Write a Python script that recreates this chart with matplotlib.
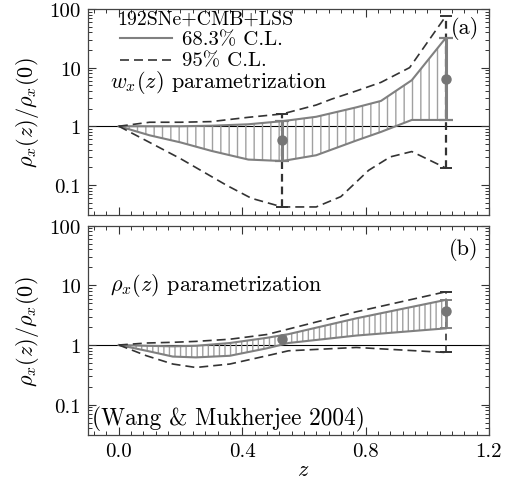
import numpy as np
import matplotlib
matplotlib.use("Agg")
import matplotlib.pyplot as plt
from matplotlib.ticker import FixedLocator, FixedFormatter, MultipleLocator, LogLocator, NullFormatter
from matplotlib.lines import Line2D

plt.rcParams['font.family'] = ['cmr10', 'DejaVu Serif']
plt.rcParams['mathtext.fontset'] = 'cm'
plt.rcParams['axes.formatter.use_mathtext'] = True
plt.rcParams['hatch.color'] = '#a0a0a0'
plt.rcParams['hatch.linewidth'] = 1.0
plt.rcParams['axes.unicode_minus'] = False

# ---- data: panel (a), w_x(z) parametrization ----
z_a = [0.0, 0.1, 0.2, 0.3, 0.42, 0.53, 0.64, 0.77, 0.85, 0.95, 1.06]
a_lo68 = [1.0, 0.70, 0.53, 0.38, 0.27, 0.255, 0.32, 0.57, 0.80, 1.28, 1.28]
a_up68 = [1.0, 1.0, 1.0, 1.02, 1.08, 1.22, 1.45, 2.1, 2.7, 6.1, 32.0]
z_a95 = [0.0, 0.1, 0.2, 0.3, 0.42, 0.53, 0.64, 0.69, 0.77, 0.85, 0.943, 1.06]
a_up95 = [1.0, 1.17, 1.17, 1.2, 1.42, 1.62, 2.3, 2.9, 4.0, 5.6, 10.0, 75.0]
z_alo95 = [0.0, 0.2, 0.35, 0.43, 0.53, 0.64, 0.72, 0.81, 0.88, 0.95, 1.06]
a_lo95 = [1.0, 0.28, 0.098, 0.059, 0.042, 0.042, 0.063, 0.177, 0.30, 0.37, 0.194]
a_pts_z = [0.53, 1.06]
a_pts_v = [0.585, 6.3]
a_pts_lo68 = [0.255, 1.28]
a_pts_up68 = [1.22, 32.0]
a_pts_lo95 = [0.042, 0.194]
a_pts_up95 = [1.62, 75.0]

# ---- data: panel (b), rho_x(z) parametrization ----
z_b = [0.0, 0.09, 0.175, 0.25, 0.36, 0.48, 0.55, 0.77, 1.06]
b_lo68 = [1.0, 0.80, 0.64, 0.62, 0.66, 0.88, 1.08, 1.44, 1.9]
b_up68 = [1.0, 0.97, 0.95, 0.97, 1.08, 1.32, 1.52, 2.8, 5.7]
b_up95 = [1.0, 1.08, 1.11, 1.15, 1.25, 1.5, 1.85, 3.6, 7.8]
b_lo95 = [1.0, 0.66, 0.48, 0.42, 0.48, 0.66, 0.80, 0.91, 0.75]
b_pts_z = [0.53, 1.06]
b_pts_v = [1.25, 3.76]
b_end_lo68, b_end_up68 = 1.9, 5.7
b_end_lo95, b_end_up95 = 0.75, 7.8

ytick_vals = [0.1, 1, 10, 100]
ytick_labels = ['0.1', '1', '10', '100']
xtick_vals = [0.0, 0.4, 0.8, 1.2]
xtick_labels = ['0.0', '0.4', '0.8', '1.2']

GRAY = '#808080'
DARK = '#333333'
DOT = '#757575'
DASH = (5.4, 3.0)

fig = plt.figure(figsize=(5.13, 4.85), dpi=100)
axA = fig.add_axes([0.1715, 0.5553, 0.7815, 0.4241])
axB = fig.add_axes([0.1715, 0.1010, 0.7815, 0.4316])


def style_axis(ax):
    ax.set_yscale('log')
    ax.set_ylim(0.031, 100)
    ax.set_xlim(-0.1, 1.2)
    ax.yaxis.set_major_locator(FixedLocator(ytick_vals))
    ax.yaxis.set_major_formatter(FixedFormatter(ytick_labels))
    ax.yaxis.set_minor_locator(LogLocator(base=10, subs=np.arange(2, 10)))
    ax.yaxis.set_minor_formatter(NullFormatter())
    ax.xaxis.set_major_locator(FixedLocator(xtick_vals))
    ax.xaxis.set_minor_locator(MultipleLocator(0.04))
    ax.tick_params(which='both', direction='in', top=True, right=True,
                   colors='#333333', labelcolor='black', labelsize=15)
    ax.tick_params(which='major', length=5.5, width=0.8)
    ax.tick_params(which='minor', length=3, width=0.7)
    ax.tick_params(axis='y', pad=5)
    ax.tick_params(axis='x', pad=5)
    for sp in ax.spines.values():
        sp.set_color('#444444')
        sp.set_linewidth(0.9)
    ax.axhline(1, color='black', lw=0.8, zorder=1)
    ax.set_ylabel(r'$\rho_x(z)/\rho_x(0)$', fontsize=16, labelpad=6)


style_axis(axA)
style_axis(axB)
axA.set_xticklabels([])
axA.set_xticklabels([], minor=True)
axB.xaxis.set_major_formatter(FixedFormatter(xtick_labels))

# ---- panel (a) ----
axA.fill_between(z_a, a_lo68, a_up68, facecolor='none', edgecolor='#a0a0a0',
                 hatch='||', linewidth=0, zorder=2)
axA.plot(z_a, a_up68, color=GRAY, lw=1.5, zorder=3)
axA.plot(z_a, a_lo68, color=GRAY, lw=1.5, zorder=3)
axA.plot(z_a95, a_up95, color=DARK, lw=1.2, dashes=DASH, zorder=3)
axA.plot(z_alo95, a_lo95, color=DARK, lw=1.2, dashes=DASH, zorder=3)
for zz, lo, up in zip(a_pts_z, a_pts_lo95, a_pts_up95):
    axA.vlines(zz, lo, up, color=DARK, lw=1.6, linestyles=(0, (3.5, 2.2)), zorder=4)
    axA.plot([zz, zz], [lo, up], ls='none', marker='_', ms=8, mew=1.4, color=DARK, zorder=4)
axA.errorbar(a_pts_z, a_pts_v,
             yerr=[np.array(a_pts_v) - np.array(a_pts_lo68), np.array(a_pts_up68) - np.array(a_pts_v)],
             fmt='o', ms=6.5, color=DOT, ecolor=GRAY, elinewidth=2.2, capsize=5, capthick=1.6, zorder=5)

# legend, drawn by hand
axA.text(0.072, 0.951, '192SNe+CMB+LSS', transform=axA.transAxes, fontsize=14.3,
         va='center', ha='left')
axA.add_line(Line2D([0.080, 0.209], [0.859, 0.859], transform=axA.transAxes, color=GRAY, lw=1.5))
axA.text(0.234, 0.854, '68.3% C.L.', transform=axA.transAxes, fontsize=15, va='center', ha='left')
axA.add_line(Line2D([0.080, 0.209], [0.752, 0.752], transform=axA.transAxes, color=DARK, lw=1.2,
                    dashes=DASH))
axA.text(0.234, 0.750, '95% C.L.', transform=axA.transAxes, fontsize=15, va='center', ha='left')

axA.text(0.055, 0.648, r'$w_x(z)$ parametrization', transform=axA.transAxes,
         fontsize=16, va='center', ha='left')
axA.text(0.975, 0.912, '(a)', transform=axA.transAxes, fontsize=16, va='center', ha='right')

# ---- panel (b) ----
axB.fill_between(z_b, b_lo68, b_up68, facecolor='none', edgecolor='#a0a0a0',
                 hatch='|||', linewidth=0, zorder=2)
axB.plot(z_b, b_up68, color=GRAY, lw=1.5, zorder=3)
axB.plot(z_b, b_lo68, color=GRAY, lw=1.5, zorder=3)
axB.plot(z_b, b_up95, color=DARK, lw=1.2, dashes=DASH, zorder=3)
axB.plot(z_b, b_lo95, color=DARK, lw=1.2, dashes=DASH, zorder=3)
zend = b_pts_z[1]
axB.vlines(zend, b_end_lo95, b_end_up95, color=DARK, lw=1.2, linestyles=(0, (4, 3)), zorder=4)
axB.plot([zend, zend], [b_end_lo95, b_end_up95], ls='none', marker='_', ms=8, mew=1.4, color=DARK, zorder=4)
axB.vlines(zend, b_end_lo68, b_end_up68, color=GRAY, lw=2.0, zorder=4)
axB.plot([zend, zend], [b_end_lo68, b_end_up68], ls='none', marker='_', ms=8, mew=1.4, color=GRAY, zorder=4)
axB.plot(b_pts_z, b_pts_v, 'o', ms=6.5, color=DOT, zorder=5)

axB.text(0.055, 0.721, r'$\rho_x(z)$ parametrization', transform=axB.transAxes,
         fontsize=16, va='center', ha='left')
axB.text(0.975, 0.889, '(b)', transform=axB.transAxes, fontsize=16, va='center', ha='right')
axB.text(0.01, 0.08, '(Wang & Mukherjee 2004)', transform=axB.transAxes,
         fontsize=16.8, va='center', ha='left')
axB.set_xlabel(r'$z$', fontsize=16)
axB.xaxis.set_label_coords(0.537, -0.115)

fig.savefig('out.png', dpi=100)
